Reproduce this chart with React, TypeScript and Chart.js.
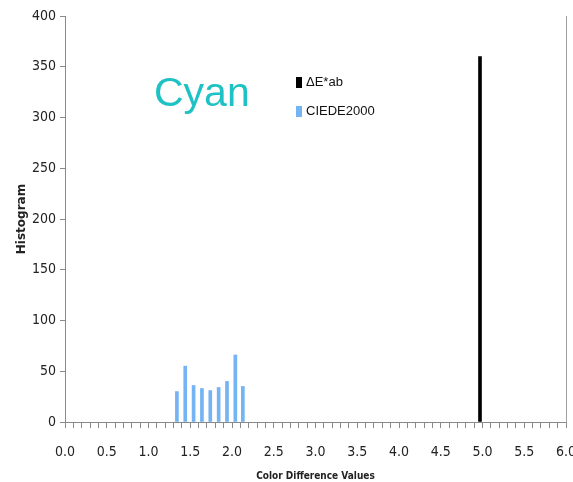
import React, { useEffect, useRef } from 'react';
import { Chart, registerables } from 'chart.js';

Chart.register(...registerables);

// ---- data ----
const seriesLabels = ['ΔE*ab', 'CIEDE2000'];
const seriesColors = ['#000000', '#74b4f4'];
const deltaEabValues = [4.97];
const deltaEabCounts = [360];
const ciedeValues = [1.34, 1.44, 1.54, 1.64, 1.74, 1.84, 1.94, 2.04, 2.13];
const ciedeCounts = [30, 55, 36, 33, 31, 34, 40, 66, 35];
const xMin = 0;
const xMax = 6;
const xMinorStep = 0.1;
const xLabelEvery = 0.5;
const yMin = 0;
const yMax = 400;
const yStep = 50;
const titleText = 'Cyan';
const xAxisTitle = 'Color Difference Values';
const yAxisTitle = 'Histogram';

const tickFont = { family: "'Liberation Sans Narrow', 'DejaVu Sans Condensed', sans-serif", size: 14 };

export default function App() {
  const canvasRef = useRef<HTMLCanvasElement | null>(null);

  useEffect(() => {
    const canvas = canvasRef.current;
    if (!canvas) return;
    const chart = new Chart(canvas, {
      type: 'bar',
      data: {
        datasets: [
          {
            label: seriesLabels[0],
            data: deltaEabValues.map((x, i) => ({ x, y: deltaEabCounts[i] })),
            backgroundColor: seriesColors[0],
            borderWidth: 0,
            barThickness: 3,
          },
          {
            label: seriesLabels[1],
            data: ciedeValues.map((x, i) => ({ x, y: ciedeCounts[i] })),
            backgroundColor: seriesColors[1],
            borderWidth: 0,
            barThickness: 3,
          },
        ],
      } as any,
      options: {
        animation: false,
        responsive: false,
        maintainAspectRatio: false,
        layout: { padding: { left: 0, right: 7, top: 16, bottom: 0 } },
        datasets: { bar: { grouped: false } } as any,
        plugins: { legend: { display: false }, tooltip: { enabled: false } },
        scales: {
          x: {
            type: 'linear',
            min: xMin,
            max: xMax,
            offset: false,
            ticks: {
              stepSize: xMinorStep,
              autoSkip: false,
              maxRotation: 0,
              minRotation: 0,
              padding: 16,
              color: '#222',
              font: tickFont,
              callback: (v: any) => {
                const n = Number(v);
                const k = Math.round(n / xMinorStep);
                const every = Math.round(xLabelEvery / xMinorStep);
                return k % every === 0 ? n.toFixed(1) : '';
              },
            },
            grid: { display: true, drawOnChartArea: false, drawTicks: true, tickLength: 6, color: '#8a8a8a', offset: false },
            border: { display: true, color: '#8a8a8a', width: 1 },
            title: {
              display: true,
              text: xAxisTitle,
              color: '#222',
              font: { family: "'Liberation Sans Narrow', 'DejaVu Sans Condensed', sans-serif", size: 10, weight: 'bold' },
              padding: { top: 0, bottom: 0 },
            },
            afterFit: (s: any) => {
              s.height = 60;
              s.paddingLeft = 0;
              s.paddingRight = 0;
            },
          } as any,
          y: {
            min: yMin,
            max: yMax,
            ticks: { stepSize: yStep, padding: 4, color: '#222', font: tickFont },
            grid: { display: true, drawOnChartArea: false, drawTicks: true, tickLength: 5, color: '#8a8a8a' },
            border: { display: true, color: '#8a8a8a', width: 1 },
            title: {
              display: true,
              text: yAxisTitle,
              color: '#222',
              font: { family: "'DejaVu Sans', sans-serif", size: 12, weight: 'bold' },
              padding: { top: 15, bottom: 0 },
            },
            afterFit: (s: any) => {
              s.width = 65;
              s.paddingTop = 0;
              s.paddingBottom = 0;
            },
          } as any,
          y2: {
            position: 'right',
            display: true,
            grid: { display: false, drawOnChartArea: false, drawTicks: false },
            ticks: { display: false },
            border: { display: true, color: '#a0a0a0', width: 1 },
            afterFit: (s: any) => {
              s.width = 0;
              s.paddingTop = 0;
              s.paddingBottom = 0;
            },
          } as any,
        },
      },
    });
    return () => chart.destroy();
  }, []);

  return (
    <div style={{ position: 'fixed', left: 0, top: 0, width: 573, height: 482, background: '#fff', overflow: 'hidden' }}>
      <canvas ref={canvasRef} width={573} height={482} style={{ width: 573, height: 482, display: 'block' }} />
      <div
        style={{
          position: 'absolute',
          left: 154,
          top: 72,
          fontFamily: "'Liberation Sans', Arial, sans-serif",
          fontSize: 41,
          lineHeight: '41px',
          color: '#1ec2c4',
        }}
      >
        {titleText}
      </div>
      <div
        style={{
          position: 'absolute',
          left: 296,
          top: 74,
          fontFamily: "'Liberation Sans', Arial, sans-serif",
          fontSize: 13,
          color: '#111',
        }}
      >
        {seriesLabels.map((lab, i) => (
          <div key={lab} style={{ display: 'flex', alignItems: 'center', height: 16, marginBottom: i === 0 ? 13 : 0 }}>
            <span style={{ display: 'inline-block', width: 6, height: 11, background: seriesColors[i], marginRight: 4 }} />
            <span style={{ lineHeight: '16px' }}>{lab}</span>
          </div>
        ))}
      </div>
    </div>
  );
}
